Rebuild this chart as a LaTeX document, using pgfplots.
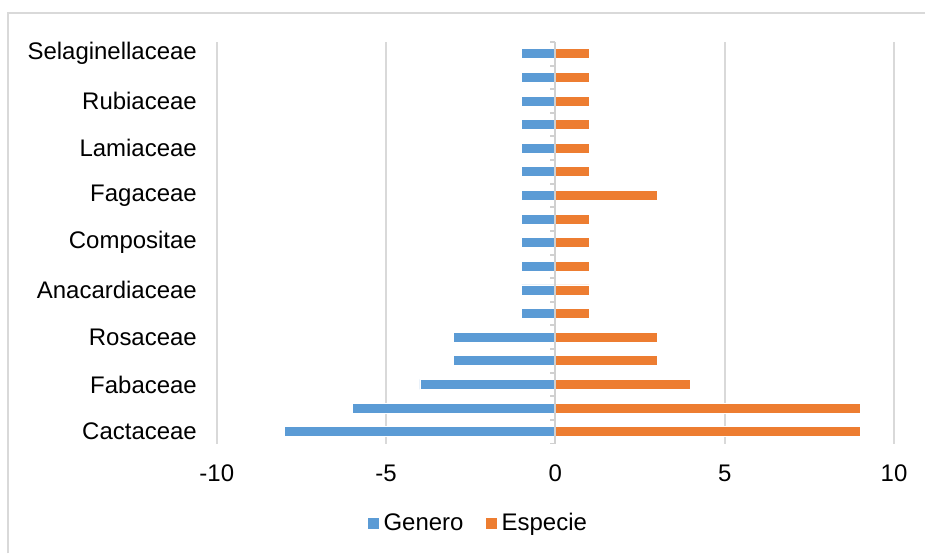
\documentclass[border=0pt]{standalone}
\usepackage{pgfplots}
\pgfplotsset{compat=1.18}
\usepackage{pgfplotstable}
\usepackage{fontspec}
\setmainfont{Liberation Sans}

\definecolor{genblue}{HTML}{5B9BD5}
\definecolor{espor}{HTML}{ED7D31}
\definecolor{gridgray}{HTML}{D9D9D9}
\definecolor{axisgray}{HTML}{D0D0D0}

% row = family position (0 = Cactaceae at the bottom)
\pgfplotstableread{
row genero especie
0  -8 9
1  -6 9
2  -4 4
3  -3 3
4  -3 3
5  -1 1
6  -1 1
7  -1 1
8  -1 1
9  -1 1
10 -1 3
11 -1 1
12 -1 1
13 -1 1
14 -1 1
15 -1 1
16 -1 1
}\familias

\begin{document}
\begin{tikzpicture}
\fontsize{18}{21}\selectfont
\begin{axis}[
  scale only axis,
  width=508.5pt, height=301.5pt,
  xmin=-10, xmax=10,
  ymin=-0.5, ymax=16.5,
  axis line style={draw=none},
  major tick style={draw=none},
  xtick={-10,-5,0,5,10},
  xticklabels={-10,-5,0,5,10},
  xmajorgrids,
  grid style={gridgray, line width=1.5pt},
  ytick={0,2,...,16},
  yticklabels={Cactaceae,Fabaceae,Rosaceae,Anacardiaceae,Compositae,Fagaceae,Lamiaceae,Rubiaceae,Selaginellaceae},
  yticklabel style={font=\fontsize{18}{21}\selectfont, xshift=-4.5pt},
  xticklabel style={font=\fontsize{18}{21}\selectfont, yshift=-10pt},
  xbar, bar width=7.5pt,
  legend columns=2,
  legend style={draw=none, at={(0.386,-0.2)}, anchor=center,
    font=\fontsize{18}{21}\selectfont,
    /tikz/every odd column/.append style={column sep=1pt},
    /tikz/every even column/.append style={column sep=14pt}},
  legend image code/.code={\fill[#1] (0pt,-4.5pt) rectangle (9pt,4.5pt);},
]
\addplot[bar shift=0pt, fill=genblue, draw=white, line width=0.6pt] table[x=genero, y=row] {\familias};
\addlegendentry{Genero}
\addplot[bar shift=0pt, fill=espor, draw=white, line width=0.6pt] table[x=especie, y=row] {\familias};
\addlegendentry{Especie}
% zero axis with small ticks between categories
\draw[axisgray, line width=1.5pt] (axis cs:0,-0.5) -- (axis cs:0,16.5);
\pgfplotsinvokeforeach{-0.5,0.5,...,16.5}{
  \draw[axisgray, line width=1.5pt] (axis cs:0,#1) -- ([xshift=-4pt]axis cs:0,#1);
}
\end{axis}
% chart frame and page extent
\draw[gridgray, line width=1.5pt] (-156.75pt,-82.5pt) -- (-156.75pt,323.25pt) -- (531.75pt,323.25pt);
\path[use as bounding box] (-162.75pt,-82.5pt) rectangle (531.75pt,333pt);
\end{tikzpicture}
\end{document}
